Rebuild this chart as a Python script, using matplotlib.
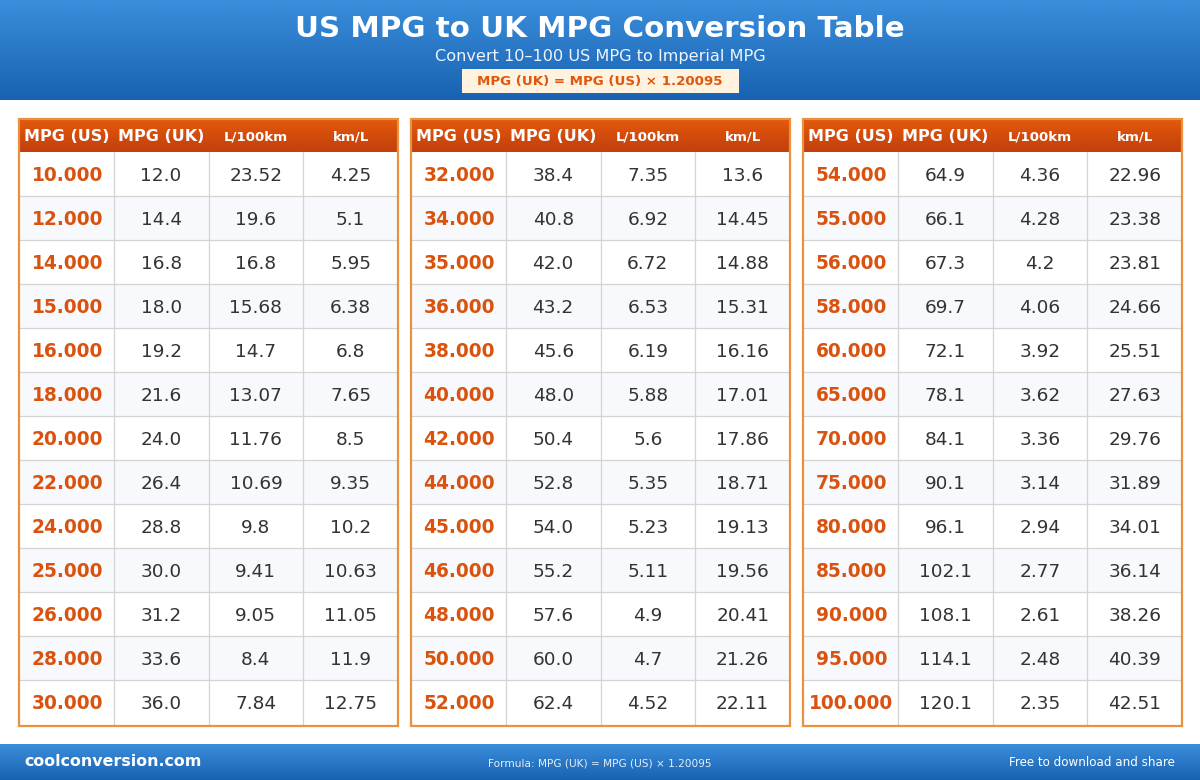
import numpy as np
import matplotlib
matplotlib.use('Agg')
import matplotlib.pyplot as plt
from matplotlib.patches import Rectangle

plt.rcParams['font.family'] = 'DejaVu Sans'

# 数据
title = 'US MPG to UK MPG Conversion Table'
subtitle = 'Convert 10–100 US MPG to Imperial MPG'
formula = 'MPG (UK) = MPG (US) × 1.20095'
col_labels = ['MPG (US)', 'MPG (UK)', 'L/100km', 'km/L']

mpg_us = [10, 12, 14, 15, 16, 18, 20, 22, 24, 25, 26, 28, 30,
          32, 34, 35, 36, 38, 40, 42, 44, 45, 46, 48, 50, 52,
          54, 55, 56, 58, 60, 65, 70, 75, 80, 85, 90, 95, 100]
mpg_uk = ['12.0', '14.4', '16.8', '18.0', '19.2', '21.6', '24.0', '26.4', '28.8', '30.0', '31.2', '33.6', '36.0',
          '38.4', '40.8', '42.0', '43.2', '45.6', '48.0', '50.4', '52.8', '54.0', '55.2', '57.6', '60.0', '62.4',
          '64.9', '66.1', '67.3', '69.7', '72.1', '78.1', '84.1', '90.1', '96.1', '102.1', '108.1', '114.1', '120.1']
l_100km = ['23.52', '19.6', '16.8', '15.68', '14.7', '13.07', '11.76', '10.69', '9.8', '9.41', '9.05', '8.4', '7.84',
           '7.35', '6.92', '6.72', '6.53', '6.19', '5.88', '5.6', '5.35', '5.23', '5.11', '4.9', '4.7', '4.52',
           '4.36', '4.28', '4.2', '4.06', '3.92', '3.62', '3.36', '3.14', '2.94', '2.77', '2.61', '2.48', '2.35']
km_l = ['4.25', '5.1', '5.95', '6.38', '6.8', '7.65', '8.5', '9.35', '10.2', '10.63', '11.05', '11.9', '12.75',
        '13.6', '14.45', '14.88', '15.31', '16.16', '17.01', '17.86', '18.71', '19.13', '19.56', '20.41', '21.26', '22.11',
        '22.96', '23.38', '23.81', '24.66', '25.51', '27.63', '29.76', '31.89', '34.01', '36.14', '38.26', '40.39', '42.51']

rows_per_table = 13

# 画布（像素坐标）
W, H = 1200, 780
fig = plt.figure(figsize=(12, 7.8), dpi=100)
ax = fig.add_axes([0, 0, 1, 1])
ax.set_xlim(0, W)
ax.set_ylim(H, 0)
ax.axis('off')


def vgrad(x0, x1, y0, y1, c_top, c_bot, z=1):
    c_top = np.array(matplotlib.colors.to_rgb(c_top))
    c_bot = np.array(matplotlib.colors.to_rgb(c_bot))
    t = np.linspace(0, 1, 64)[:, None]
    img = (c_top * (1 - t) + c_bot * t)[:, None, :]
    ax.imshow(img, extent=[x0, x1, y1, y0], aspect='auto', zorder=z, interpolation='bilinear')


# 顶部标题栏
vgrad(0, W, 0, 100, '#3a8edb', '#1862b2')
ax.text(W / 2, 29, title, ha='center', va='center', color='white', fontsize=21.2, fontweight='bold', zorder=3)
ax.text(W / 2, 57, subtitle, ha='center', va='center', color='#eef4fb', fontsize=11.6, zorder=3)
ax.add_patch(Rectangle((462, 69), 277, 24, facecolor='#fff3e0', edgecolor='none', zorder=2))
ax.text(W / 2, 81.5, formula, ha='center', va='center', color='#e0560a', fontsize=9.6, fontweight='bold', zorder=3)

# 表格
table_x = [19, 411, 803]
tw = 379
top = 119
head_h = 33
row_h = 44
col_w = tw / 4

for t, x0 in enumerate(table_x):
    body_top = top + head_h
    bottom = body_top + rows_per_table * row_h
    vgrad(x0, x0 + tw, top, body_top, '#e4590a', '#c23f0f')
    for j, lab in enumerate(col_labels):
        fs = 11.5 if j < 2 else 9.6
        ax.text(x0 + col_w * (j + 0.5), top + head_h / 2 + 1, lab, ha='center', va='center',
                color='white', fontsize=fs, fontweight='bold', zorder=3)
    for i in range(rows_per_table):
        k = t * rows_per_table + i
        y0 = body_top + i * row_h
        fc = 'white' if i % 2 == 0 else '#f7f9fc'
        ax.add_patch(Rectangle((x0, y0), tw, row_h, facecolor=fc, edgecolor='none', zorder=1))
        if i > 0:
            ax.plot([x0, x0 + tw], [y0, y0], color='#d4d4d4', lw=0.9, zorder=2)
        yc = y0 + row_h / 2 + 1.8
        ax.text(x0 + col_w * 0.5 + 1, yc, f'{mpg_us[k]:.3f}', ha='center', va='center',
                color='#d9530e', fontsize=13.4, fontweight='bold', zorder=3)
        vals = [mpg_uk[k], l_100km[k], km_l[k]]
        for j, v in enumerate(vals):
            ax.text(x0 + col_w * (j + 1.5), yc, v, ha='center', va='center',
                    color='#333333', fontsize=13.3, zorder=3)
    for j in range(1, 4):
        ax.plot([x0 + col_w * j] * 2, [body_top, bottom], color='#d4d4d4', lw=0.9, zorder=2)
    ax.add_patch(Rectangle((x0, top), tw, bottom - top + 2, facecolor='none',
                           edgecolor='#e8913f', lw=1.6, zorder=4))

# 底部栏
vgrad(0, W, 744, 780, '#3a8edb', '#1862b2')
ax.text(24, 762, 'coolconversion.com', ha='left', va='center', color='white', fontsize=11.4, fontweight='bold', zorder=3)
ax.text(W / 2, 763, 'Formula: ' + formula, ha='center', va='center', color='#e6eef8', fontsize=7.6, zorder=3)
ax.text(1175, 763, 'Free to download and share', ha='right', va='center', color='white', fontsize=8.6, zorder=3)

fig.savefig('out.png', dpi=100)
